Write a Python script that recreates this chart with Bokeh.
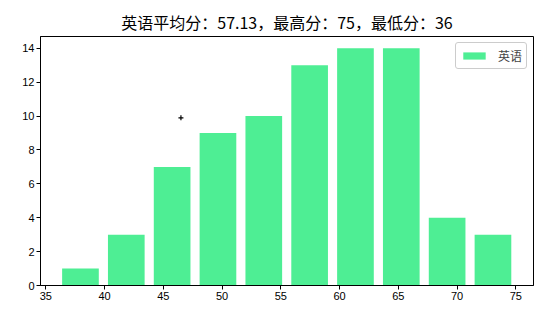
from bokeh.plotting import figure
from bokeh.models import Range1d, FixedTicker, Legend, LegendItem
from bokeh.embed import file_html
from bokeh.resources import INLINE

# data
bin_edges = [36.0, 39.9, 43.8, 47.7, 51.6, 55.5, 59.4, 63.3, 67.2, 71.1, 75.0]
counts = [1, 3, 7, 9, 10, 13, 14, 14, 4, 3]
x_ticks = [35, 40, 45, 50, 55, 60, 65, 70, 75]
y_ticks = [0, 2, 4, 6, 8, 10, 12, 14]
marker_x = [46.5]
marker_y = [9.9]
title_text = "英语平均分：57.13，最高分：75，最低分：36"
series_name = "英语"

rwidth = 0.8
lefts, rights = [], []
for a, b in zip(bin_edges[:-1], bin_edges[1:]):
    w = b - a
    lefts.append(a + (1 - rwidth) / 2 * w)
    rights.append(a + (1 + rwidth) / 2 * w)

p = figure(width=551, height=313, output_backend="svg", toolbar_location=None,
           x_range=Range1d(34.55, 76.5), y_range=Range1d(0, 14.7),
           min_border_left=40, min_border_right=18, min_border_top=36, min_border_bottom=28)

p.title.text = title_text
p.title.align = "center"
p.title.text_font = "Noto Sans CJK SC"
p.title.text_font_size = "16px"
p.title.text_font_style = "normal"
p.title.text_color = "black"
p.title.offset = 0
p.title.standoff = 6

r = p.quad(left=lefts, right=rights, bottom=0, top=counts, fill_color="#4EEE94", line_color=None)
p.scatter(marker_x, marker_y, marker="cross", size=5, color="black", line_width=1.2)

p.xgrid.visible = False
p.ygrid.visible = False
p.outline_line_color = "black"
p.outline_line_width = 1

for ax, ticks in ((p.xaxis, x_ticks), (p.yaxis, y_ticks)):
    ax.ticker = FixedTicker(ticks=ticks)
    ax.minor_tick_line_color = None
    ax.major_tick_out = 4
    ax.major_tick_in = 0
    ax.axis_line_color = "black"
    ax.major_label_text_font = "Liberation Sans"
    ax.major_label_text_font_size = "11px"
    ax.major_label_text_color = "black"
    ax.major_label_standoff = 2

legend = Legend(items=[LegendItem(label=series_name, renderers=[r])], location="top_right",
                label_text_font="Noto Sans CJK SC", label_text_font_size="12px",
                label_height=12, glyph_height=9, glyph_width=28,
                border_line_color="#cccccc", border_line_alpha=1, background_fill_alpha=0.8,
                padding=4, margin=6, label_standoff=10, border_radius=3)
p.add_layout(legend)

open("out.html", "w").write(file_html(p, INLINE))
